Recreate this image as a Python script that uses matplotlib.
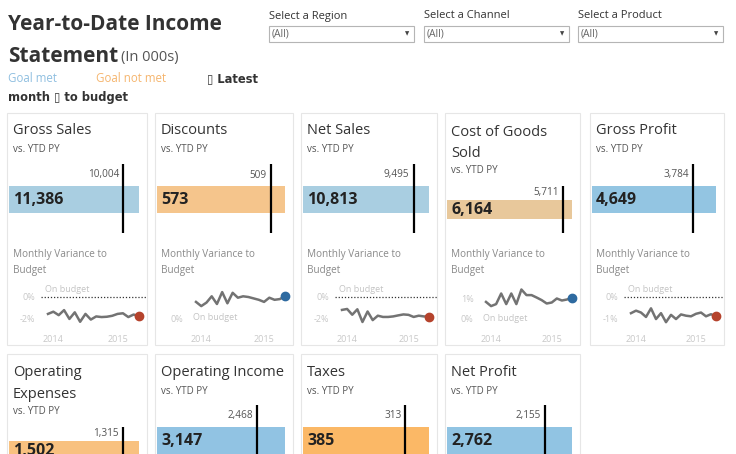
import matplotlib
matplotlib.use("Agg")
import matplotlib.pyplot as plt
from matplotlib.patches import Rectangle
import numpy as np

plt.rcParams['font.family'] = ['Open Sans', 'DejaVu Sans']

# ---------------- data ----------------
metrics = ["Gross Sales", "Discounts", "Net Sales", "Cost of Goods\nSold", "Gross Profit",
           "Operating\nExpenses", "Operating Income", "Taxes", "Net Profit"]
ytd_actual = [11386, 573, 10813, 6164, 4649, 1502, 3147, 385, 2762]
ytd_prior = [10004, 509, 9495, 5711, 3784, 1315, 2468, 313, 2155]
bar_colors = ["#a9cee1", "#f5c58c", "#a9cee1", "#e8c89b", "#93c5e2",
              "#f8c17f", "#91c3e3", "#fbb866", "#91c4e3"]

filter_labels = ["Select a Region", "Select a Channel", "Select a Product"]
filter_values = ["(All)", "(All)", "(All)"]

year_labels = ["2014", "2015"]
year_positions = [1, 13]

gross_sales_var = [-1.61, -1.40, -1.73, -1.25, -2.09, -1.46, -2.36, -1.61, -2.15,
                   -1.85, -1.91, -1.88, -1.79, -1.61, -1.55, -1.91, -1.67, -1.85]
discounts_var = [2.3, 1.7, 2.2, 3.1, 2.0, 3.7, 2.1, 3.6, 2.9,
                 3.1, 3.0, 2.8, 2.6, 2.3, 2.9, 2.6, 2.7, 3.1]
net_sales_var = [-1.23, -1.14, -1.69, -1.17, -2.38, -1.38, -2.20, -1.78, -1.90,
                 -1.90, -1.85, -1.75, -1.66, -1.70, -1.90, -1.78, -1.85, -1.88]
cogs_var = [0.83, 0.62, 0.72, 1.25, 0.72, 1.25, 0.72, 1.45, 1.17,
            1.17, 1.05, 0.92, 0.75, 0.80, 1.00, 0.90, 0.95, 1.05]
gross_profit_var = [-0.77, -0.65, -0.74, -0.95, -0.54, -1.05, -0.77, -1.20, -0.85,
                    -1.05, -0.83, -0.89, -0.92, -0.80, -0.74, -0.92, -0.82, -0.92]
spark_series = [gross_sales_var, discounts_var, net_sales_var, cogs_var, gross_profit_var]
spark_ticks = [[0, -2], [0], [0, -2], [1, 0], [0, -1]]
spark_dot = ["#b5432c", "#2e6aa0", "#b5432c", "#2e6aa0", "#b5432c"]

# ---------------- layout helpers ----------------
W, H = 736, 454
fig = plt.figure(figsize=(W / 100, H / 100), dpi=100)
fig.patch.set_facecolor("white")


def txt(x, y, s, **kw):
    kw.setdefault("va", "center")
    kw.setdefault("ha", "left")
    return fig.text(x / W, 1 - y / H, s, **kw)


def add_ax(left, top, width, height):
    return fig.add_axes([left / W, 1 - (top + height) / H, width / W, height / H])


def rect(x, y, w, h, **kw):
    fig.add_artist(Rectangle((x / W, 1 - (y + h) / H), w / W, h / H,
                             transform=fig.transFigure, **kw))


# ---------------- header ----------------
DARK = "#333333"
txt(8, 24, "Year-to-Date Income", fontsize=15, fontweight="bold", color=DARK)
txt(8, 56, "Statement", fontsize=15, fontweight="bold", color=DARK)
txt(121, 58, "(In 000s)", fontsize=10.5, color="#555555")
txt(8, 79, "Goal met", fontsize=8.3, color="#8fbfe0")
txt(96, 79, "Goal not met", fontsize=8.3, color="#f5b56e")
txt(207, 79, "\u25af Latest", fontsize=8.3, fontweight="bold", color=DARK,
    family=["DejaVu Sans"])
txt(8, 97, "month \u25af to budget", fontsize=8.3, fontweight="bold", color=DARK,
    family=["DejaVu Sans"])

for i, (lab, val) in enumerate(zip(filter_labels, filter_values)):
    fx = [269, 424, 578][i]
    txt(fx, 16, lab, fontsize=8, color=DARK)
    rect(fx, 26, 145, 16, fill=False, ec="#b5b5b5", lw=0.8)
    txt(fx + 3, 34, val, fontsize=7.5, color="#666666")
    txt(fx + 138, 34, "\u25bc", fontsize=4, color="#444444", ha="center",
        family=["DejaVu Sans"])

# ---------------- cards ----------------
card_left = [7, 155, 301, 445, 590]
card_width = [140, 138, 136, 135, 134]

for i, name in enumerate(metrics):
    row, col = divmod(i, 5)
    off = 241 * row
    cl, cw = card_left[col], card_width[col]
    two_line = "\n" in name
    top = 113 + off
    rect(cl, top, cw, 232, fill=False, ec="#e6e6e6", lw=0.8)

    if two_line:
        l1, l2 = name.split("\n")
        txt(cl + 6, 132 + off, l1, fontsize=10.5, color=DARK)
        txt(cl + 6, 153 + off, l2, fontsize=10.5, color=DARK)
        vs_y, lab_y, ref_top, bt, bb, val_y = 171, 193, 186, 200, 219, 210
    else:
        txt(cl + 6, 131 + off, name, fontsize=10.5, color=DARK)
        vs_y, lab_y, ref_top, bt, bb, val_y = 150, 175, 164, 186, 213, 200
    txt(cl + 6, vs_y + off, "vs. YTD PY", fontsize=7, color="#555555")

    # bar axes: spans the reference line's extent, y in pixel units (downward)
    bl, br = cl + 2, cl + cw - 8
    ax = add_ax(bl, ref_top + off, br - bl, 233 - ref_top)
    ax.set_ylim(233 + off, ref_top + off)
    ax.set_xlim(0, ytd_actual[i])
    ax.barh((bt + bb) / 2 + off, ytd_actual[i], height=bb - bt,
            color=bar_colors[i], align="center")
    ax.axvline(ytd_prior[i], color="black", lw=1.6)
    ax.annotate(f"{ytd_prior[i]:,}", (ytd_prior[i], lab_y + off), xytext=(-3, 0),
                textcoords="offset points", ha="right", va="center",
                fontsize=7.2, color="#555555")
    ax.annotate(f"{ytd_actual[i]:,}", (0, val_y + off), xytext=(3, 0),
                textcoords="offset points", ha="left", va="center",
                fontsize=11.5, fontweight="bold", color="#222222")
    ax.axis("off")

    # sparklines (row 1 only)
    if row == 0:
        txt(cl + 6, 254, "Monthly Variance to", fontsize=7.2, color="#8a8a8a")
        txt(cl + 6, 270, "Budget", fontsize=7.2, color="#8a8a8a")
        vals = spark_series[col]
        n = len(vals)
        ax_l, ax_r = cl + 34, cl + cw
        x0, x1 = cl + 41, cl + cw - 8
        ppx = (x1 - x0) / (n - 1)
        sax = add_ax(ax_l, 284, ax_r - ax_l, 44)
        sax.set_xlim(-(x0 - ax_l) / ppx, (n - 1) + (ax_r - x1) / ppx)
        ticks = spark_ticks[col]
        if col in (0, 2):
            ppy = 10.5; zero_px = 297
        elif col == 4:
            ppy = 21; zero_px = 297
        elif col == 3:
            ppy = 20; zero_px = 318.5
        else:
            ppy = 7; zero_px = 318
        sax.set_ylim(-(328 - zero_px) / ppy, (zero_px - 284) / ppy)
        xs = np.arange(n)
        sax.plot(xs, vals, color="#737373", lw=1.8, solid_joinstyle="round")
        sax.plot(xs[-1], vals[-1], "o", color=spark_dot[col], ms=6)
        if min(vals) < 0:
            sax.axhline(0, color="#333333", lw=0.9, ls=(0, (1, 1.5)))
            sax.annotate("On budget", (xs[0], 0), xytext=(-2, 2), textcoords="offset points",
                         ha="left", va="bottom", fontsize=6.5, color="#c4c4c4")
        else:
            sax.annotate("On budget", (xs[0], 0), xytext=(-2, 0), textcoords="offset points",
                         ha="left", va="center", fontsize=6.5, color="#c4c4c4")
        sax.set_yticks(ticks)
        sax.set_yticklabels([f"{v}%" for v in ticks])
        sax.set_xticks(year_positions)
        sax.set_xticklabels(year_labels)
        sax.tick_params(length=0, labelsize=6.5, labelcolor="#c8c8c8", pad=4)
        sax.tick_params(axis="x", pad=5)
        for s in sax.spines.values():
            s.set_visible(False)
        sax.patch.set_alpha(0)

fig.savefig("out.png", dpi=100)
